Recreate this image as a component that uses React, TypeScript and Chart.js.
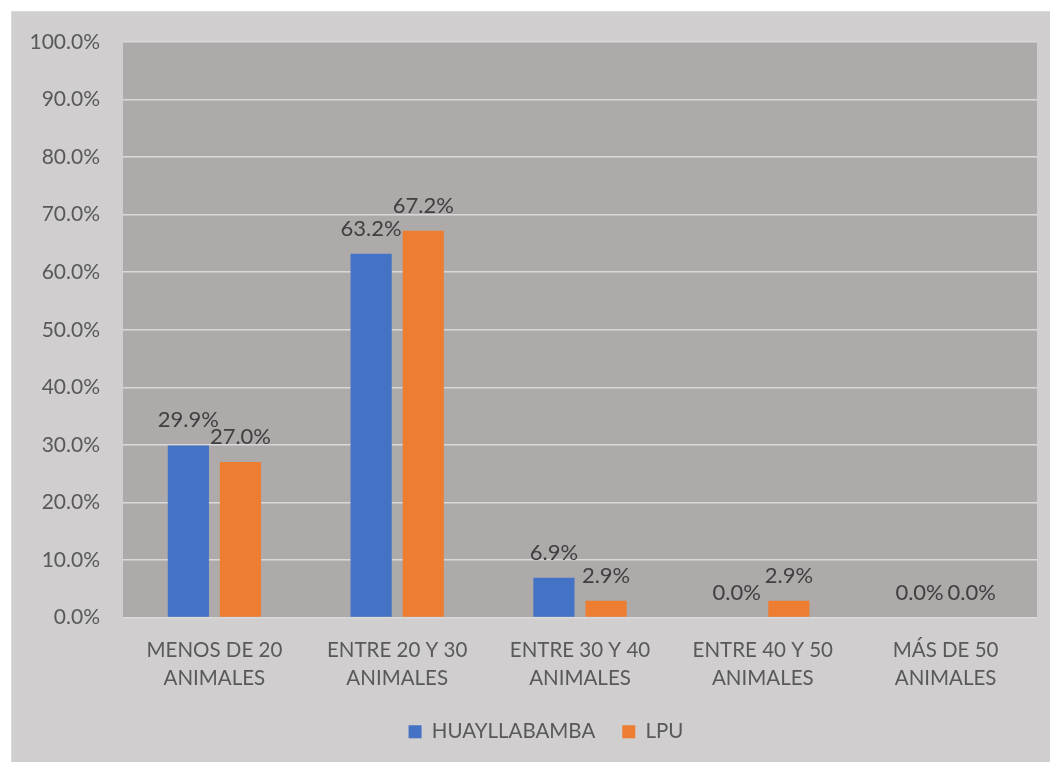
import React, { useEffect, useRef } from "react";
import { Chart, registerables } from "chart.js";

Chart.register(...registerables);

const categories: string[][] = [
  ["MENOS DE 20", "ANIMALES"],
  ["ENTRE 20 Y 30", "ANIMALES"],
  ["ENTRE 30 Y 40", "ANIMALES"],
  ["ENTRE 40 Y 50", "ANIMALES"],
  ["MÁS DE 50", "ANIMALES"],
];
const huayllabamba: number[] = [29.9, 63.2, 6.9, 0.0, 0.0];
const lpu: number[] = [27.0, 67.2, 2.9, 2.9, 0.0];
const seriesNames: string[] = ["HUAYLLABAMBA", "LPU"];

const FONT = "Lato, 'Open Sans', sans-serif";

const plotBg = {
  id: "plotBg",
  beforeDraw(chart: any) {
    const { ctx, chartArea } = chart;
    if (!chartArea) return;
    ctx.save();
    ctx.fillStyle = "#aeaaaa";
    ctx.fillRect(chartArea.left, chartArea.top, chartArea.right - chartArea.left, chartArea.bottom - chartArea.top);
    ctx.restore();
  },
};

const legendShift = {
  id: "legendShift",
  afterLayout(chart: any) {
    const lg = chart.legend;
    if (!lg) return;
    lg.left += 22;
    lg.right += 22;
  },
};

const dataLabels = {
  id: "dataLabels",
  afterDatasetsDraw(chart: any) {
    const { ctx } = chart;
    ctx.save();
    ctx.font = `22px ${FONT}`;
    ctx.fillStyle = "#404040";
    ctx.textAlign = "center";
    ctx.textBaseline = "alphabetic";
    chart.data.datasets.forEach((ds: any, i: number) => {
      const meta = chart.getDatasetMeta(i);
      meta.data.forEach((el: any, j: number) => {
        const v = ds.data[j] as number;
        ctx.fillText(v.toFixed(1) + "%", el.x, el.y - 18);
      });
    });
    ctx.restore();
  },
};

export default function App() {
  const ref = useRef<HTMLCanvasElement | null>(null);
  useEffect(() => {
    if (!ref.current) return;
    const chart = new Chart(ref.current, {
      type: "bar",
      data: {
        labels: categories,
        datasets: [
          {
            label: seriesNames[0],
            data: huayllabamba,
            backgroundColor: "#4472c4",
            categoryPercentage: 0.57,
            barPercentage: 0.79,
          },
          {
            label: seriesNames[1],
            data: lpu,
            backgroundColor: "#ed7d31",
            categoryPercentage: 0.57,
            barPercentage: 0.79,
          },
        ],
      },
      options: {
        animation: false,
        responsive: false,
        maintainAspectRatio: false,
        layout: { padding: { top: 31, right: 13, bottom: 10, left: 0 } },
        scales: {
          x: {
            grid: { display: false, drawTicks: false },
            border: { display: false },
            ticks: {
              color: "#595959",
              font: { family: FONT, size: 20.5, lineHeight: "28px" },
              padding: 19,
              maxRotation: 0,
              autoSkip: false,
            },
            afterFit(scale: any) {
              scale.height = 77;
            },
          },
          y: {
            min: 0,
            max: 100,
            grid: { color: "#d9d9d9", lineWidth: 1.5, drawTicks: false },
            border: { display: false },
            ticks: {
              stepSize: 10,
              color: "#595959",
              font: { family: FONT, size: 21, lineHeight: 0.5 },
              padding: 23,
              callback: (v: any) => Number(v).toFixed(1) + "%",
            },
            afterFit(scale: any) {
              scale.width = 112;
            },
          },
        },
        plugins: {
          legend: {
            position: "bottom",
            labels: {
              boxWidth: 13,
              boxHeight: 13,
              color: "#595959",
              font: { family: FONT, size: 20.5 },
              padding: 27,
            },
          },
          tooltip: { enabled: false },
        },
      },
      plugins: [plotBg, legendShift, dataLabels],
    });
    return () => chart.destroy();
  }, []);
  return (
    <div
      style={{
        position: "absolute",
        left: 11,
        top: 11,
        width: 1039,
        height: 751,
        background: "#d0cece",
        boxSizing: "border-box",
        borderLeft: "1px solid #d9d9d9",
        borderTop: "1px solid #d9d9d9",
      }}
    >
      <canvas ref={ref} width={1039} height={751} style={{ position: "absolute", left: -1, top: -1 }} />
    </div>
  );
}
